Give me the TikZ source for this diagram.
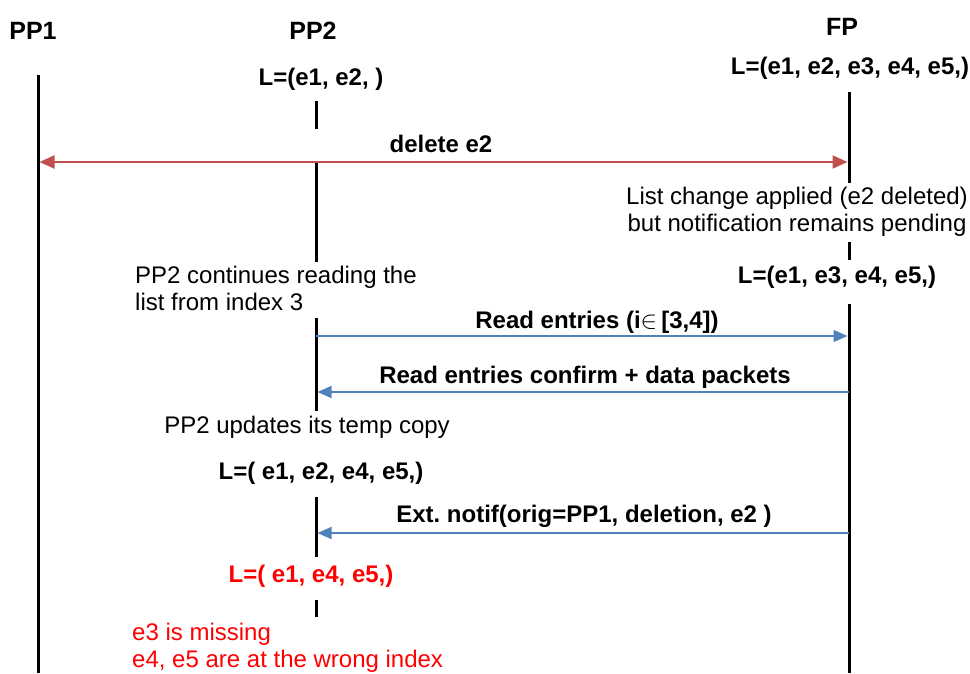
\documentclass[tikz,border=0pt]{standalone}
\usepackage{fontspec}
\setmainfont{Liberation Sans}
\usetikzlibrary{arrows.meta}
\definecolor{arrred}{HTML}{C0504D}
\definecolor{arrblue}{HTML}{4F81BD}
\definecolor{txtred}{HTML}{FF0000}
\frenchspacing
\begin{document}
\begin{tikzpicture}[x=1pt,y=-1pt,
  lifeline/.style={line width=3pt},
  msgred/.style={draw=arrred,line width=2pt,shorten <=1.5pt,shorten >=1.5pt,
    {Triangle[length=15pt,width=13pt]}-{Triangle[length=15pt,width=13pt]}},
  msgblue/.style={draw=arrblue,line width=1.5pt,shorten >=1.5pt,
    -{Triangle[length=14pt,width=12pt]}},
  title/.style={font=\bfseries\fontsize{25}{30}\selectfont,inner sep=0pt,anchor=base},
  lst/.style={font=\bfseries\fontsize{24}{28}\selectfont,inner sep=0pt,anchor=base},
  note/.style={font=\fontsize{24}{26.5}\selectfont,inner sep=0pt}]
\useasboundingbox (0,0) rectangle (970,673);
% titles
\node[title] (tpp1) at (33,39) {PP1};
\node[title] (tpp2) at (313,39) {PP2};
\node[title] (tfp) at (842,35) {FP};
% lifeline coordinates
\coordinate (pp1a) at (38,75);
\coordinate (pp1b) at (38,673);
\coordinate (p2a) at (316,101);
\coordinate (p2b) at (316,129);
\coordinate (p2c) at (316,161);
\coordinate (p2d) at (316,262);
\coordinate (p2e) at (316,318);
\coordinate (p2f) at (316,411);
\coordinate (p2g) at (316,497);
\coordinate (p2h) at (316,557);
\coordinate (p2i) at (316,600);
\coordinate (p2j) at (316,617);
\coordinate (fpa) at (849,92);
\coordinate (fpb) at (849,183);
\coordinate (fpc) at (849,242);
\coordinate (fpd) at (849,260);
\coordinate (fpe) at (849,304);
\coordinate (fpf) at (849,673);
\draw[lifeline] (pp1a) -- (pp1b);
\draw[lifeline] (p2a) -- (p2b);
\draw[lifeline] (p2c) -- (p2d);
\draw[lifeline] (p2e) -- (p2f);
\draw[lifeline] (p2g) -- (p2h);
\draw[lifeline] (p2i) -- (p2j);
\draw[lifeline] (fpa) -- (fpb);
\draw[lifeline] (fpc) -- (fpd);
\draw[lifeline] (fpe) -- (fpf);
% texts
\node[lst] (l2a) at (321,85) {L=(e1, e2, )};
\node[lst] (lfa) at (850,74) {L=(e1, e2, e3, e4, e5,)};
\node[lst] (ldel) at (441,152) {delete e2};
\node[note,align=center,anchor=base] (nfp) at (797,231) {List change applied (e2 deleted)\\but notification remains pending};
\node[lst] (lfb) at (837,283) {L=(e1, e3, e4, e5,)};
\node[note,align=left,anchor=base west] (npp2) at (135,310) {PP2 continues reading the\\list from index 3};
\node[lst] (lread) at (597,328) {Read entries (i$\in$\,[3,4])};
\node[lst] (lconf) at (585,383) {Read entries confirm + data packets};
\node[note,anchor=base] (nupd) at (307,433) {PP2 updates its temp copy};
\node[lst] (l2b) at (321,479) {L=( e1, e2, e4, e5,)};
\node[lst] (lext) at (584,522) {Ext. notif(orig=PP1, deletion, e2 )};
\node[lst,text=txtred] (l2c) at (311,582) {L=( e1, e4, e5,)};
\node[note,align=left,anchor=base west,text=txtred] (nmiss) at (132,667) {e3 is missing\\e4, e5 are at the wrong index};
% message coordinates
\coordinate (m1l) at (38,162);
\coordinate (m1r) at (849,162);
\coordinate (m2l) at (316,336);
\coordinate (m2r) at (849,336);
\coordinate (m3l) at (316,392);
\coordinate (m3r) at (849,392);
\coordinate (m4l) at (316,533);
\coordinate (m4r) at (849,533);
\draw[msgred] (m1l) -- (m1r);
\draw[msgblue] (m2l) -- (m2r);
\draw[msgblue] (m3r) -- (m3l);
\draw[msgblue] (m4r) -- (m4l);
\end{tikzpicture}
\end{document}
